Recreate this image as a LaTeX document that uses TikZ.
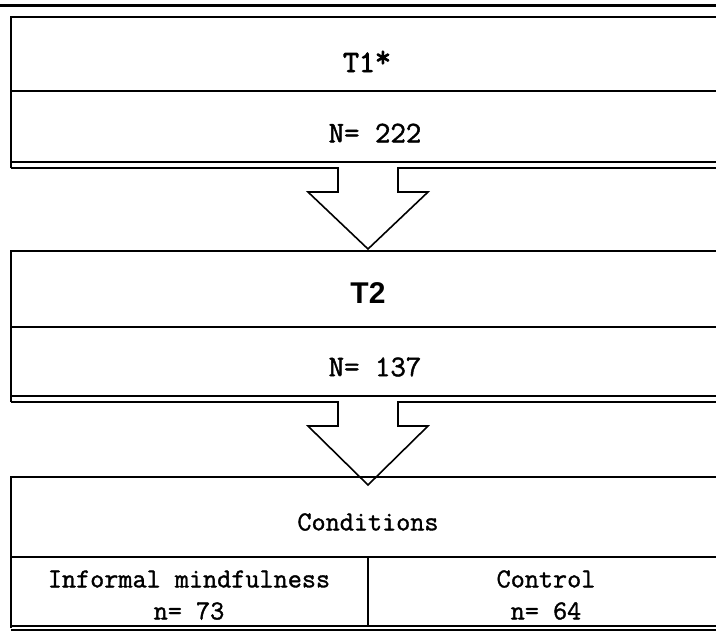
\documentclass[tikz,border=0pt]{standalone}
\usepackage{fontspec}
\newfontfamily\courlike[FakeBold=1.4]{Latin Modern Mono}
\newfontfamily\courbold[FakeBold=2.6]{Latin Modern Mono}
\setsansfont{Liberation Sans}
\begin{document}
\begin{tikzpicture}[x=1pt,y=-1pt,
  frame/.style={line width=1.6pt,black},
  mono/.style={font=\fontsize{27.4}{30}\selectfont\courlike,inner sep=0pt},
  monobig/.style={font=\fontsize{30}{32}\selectfont\courlike,inner sep=0pt},
  monob/.style={font=\fontsize{31}{34}\selectfont\courbold,inner sep=0pt},
  sansb/.style={font=\fontsize{30}{34}\selectfont\sffamily\bfseries,inner sep=0pt}]
\useasboundingbox (0,0) rectangle (716,633);
\clip (0,0) rectangle (716,633);
% top rule
\draw[line width=2.6pt] (0,5.5) -- (716,5.5);
% box 1
\coordinate (b1tl) at (11,17);
\draw[frame] (740,17) -- (b1tl) -- (11,168);
\draw[frame] (11,91) -- (740,91);
\draw[frame] (11,162) -- (740,162);
% arrow 1 joined to lower line
\coordinate (a1tip) at (368,249);
\draw[frame] (11,168) -- (338,168) -- (338,192) -- (308,192) -- (a1tip)
  -- (428,192) -- (398,192) -- (398,168) -- (740,168);
% box 2
\draw[frame] (740,251) -- (11,251) -- (11,402);
\draw[frame] (11,327) -- (740,327);
\draw[frame] (11,396) -- (740,396);
\coordinate (a2tip) at (368,485);
\draw[frame] (11,402) -- (338,402) -- (338,426) -- (308,426) -- (a2tip)
  -- (428,426) -- (398,426) -- (398,402) -- (740,402);
% box 3
\draw[frame] (740,477) -- (11,477) -- (11,628);
\draw[frame] (11,557) -- (740,557);
\draw[frame] (368,557) -- (368,627);
\draw[frame] (11,626) -- (740,626);
\draw[frame] (11,630) -- (740,630);
% texts
\node[monob,anchor=base] (t1) at (367,72) {T1\raisebox{5pt}{*}};
\node[monobig] (n1) at (375,133) {N= 222};
\node[sansb] (t2) at (368,293) {T2};
\node[monobig] (n2) at (375,367) {N= 137};
\node[mono] (cond) at (368,522) {Conditions};
\node[mono] (inf) at (189,579) {Informal mindfulness};
\node[mono] (ctl) at (546,579) {Control};
\node[mono] (ninf) at (189,611) {n= 73};
\node[mono] (nctl) at (546,611) {n= 64};
\end{tikzpicture}
\end{document}
